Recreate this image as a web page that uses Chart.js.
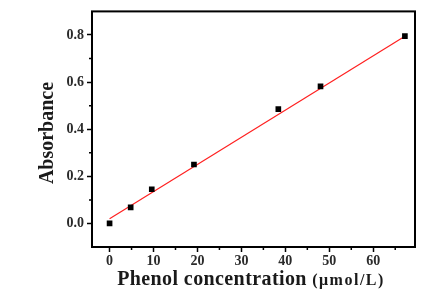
<!DOCTYPE html>
<html><head><meta charset="utf-8">
<script src="https://cdn.jsdelivr.net/npm/chart.js@4.4.1/dist/chart.umd.min.js"></script>
<style>html,body{margin:0;padding:0;background:#fff}#wrap{width:447px;height:300px}</style>
</head><body><div id="wrap"><canvas id="c" width="447" height="300"></canvas></div>
<script>
const concentration = [0, 4.8, 9.6, 19.2, 38.4, 48, 67.2];
const absorbance = [0.0, 0.068, 0.145, 0.25, 0.485, 0.582, 0.795];
const fitX = [0, 67.2];
const fitY = [0.02, 0.795];
const xTicks = [0, 10, 20, 30, 40, 50, 60];
const yTicks = [0.0, 0.2, 0.4, 0.6, 0.8];
const xMinor = [5, 15, 25, 35, 45, 55, 65];
const yMinor = [0.1, 0.3, 0.5, 0.7];
const xTitleMain = 'Phenol concentration ';
const xTitleUnit = '(μmol/L)';
const yTitle = 'Absorbance';

const serif = '"Liberation Serif", "Times New Roman", serif';

const framePlugin = {
  id: 'frame',
  afterDraw(chart) {
    const {ctx, chartArea: a, scales} = chart;
    ctx.save();
    ctx.strokeStyle = '#000';
    ctx.lineWidth = 2;
    ctx.strokeRect(a.left, a.top, a.right - a.left, a.bottom - a.top);
    ctx.lineWidth = 1.5;
    ctx.beginPath();
    xMinor.forEach(v => { const x = scales.x.getPixelForValue(v); ctx.moveTo(x, a.bottom); ctx.lineTo(x, a.bottom + 3); });
    yMinor.forEach(v => { const y = scales.y.getPixelForValue(v); ctx.moveTo(a.left, y); ctx.lineTo(a.left - 3, y); });
    ctx.stroke();
    ctx.fillStyle = '#1a1a1a';
    ctx.textBaseline = 'alphabetic';
    ctx.font = 'bold 20px ' + serif;
    ctx.letterSpacing = '0.4px';
    const w1 = ctx.measureText(xTitleMain).width;
    ctx.font = 'bold 16px ' + serif;
    ctx.letterSpacing = '1.5px';
    const w2 = ctx.measureText(xTitleUnit).width;
    const cx = 251;
    let x0 = cx - (w1 + w2) / 2;
    ctx.font = 'bold 20px ' + serif;
    ctx.letterSpacing = '0.4px';
    ctx.textAlign = 'left';
    ctx.fillText(xTitleMain, x0, 285);
    ctx.font = 'bold 16px ' + serif;
    ctx.letterSpacing = '1.5px';
    ctx.fillText(xTitleUnit, x0 + w1, 285);
    ctx.letterSpacing = '0px';
    ctx.translate(53, 133);
    ctx.rotate(-Math.PI / 2);
    ctx.font = 'bold 20px ' + serif;
    ctx.textAlign = 'center';
    ctx.fillText(yTitle, 0, 0);
    ctx.restore();
  }
};

new Chart(document.getElementById('c'), {
  type: 'scatter',
  data: {
    datasets: [
      {
        type: 'line',
        data: fitX.map((x, i) => ({x, y: fitY[i]})),
        borderColor: '#ff2020',
        borderWidth: 1.2,
        pointRadius: 0,
        fill: false,
        order: 2
      },
      {
        data: concentration.map((x, i) => ({x, y: absorbance[i]})),
        pointStyle: 'rect',
        pointRadius: 4,
        backgroundColor: '#000',
        borderColor: '#000',
        borderWidth: 0,
        order: 1
      }
    ]
  },
  options: {
    responsive: false,
    animation: false,
    events: [],
    layout: {padding: {left: 0, right: 32, top: 10, bottom: 0}},
    plugins: {legend: {display: false}, tooltip: {enabled: false}},
    scales: {
      x: {
        type: 'linear',
        min: -4, max: 69.5,
        afterBuildTicks: s => { s.ticks = xTicks.map(v => ({value: v})); },
        afterFit: s => { s.height = 53; },
        border: {display: false},
        grid: {drawOnChartArea: false, drawTicks: true, tickLength: 5, tickWidth: 1.5, tickColor: '#000'},
        ticks: {color: '#2a2a2a', padding: 1, font: {family: serif, size: 14, weight: 'bold'}, callback: v => String(v)}
      },
      y: {
        type: 'linear',
        min: -0.1, max: 0.9,
        afterBuildTicks: s => { s.ticks = yTicks.map(v => ({value: v})); },
        afterFit: s => { s.width = 92; },
        border: {display: false},
        grid: {drawOnChartArea: false, drawTicks: true, tickLength: 5, tickWidth: 1.5, tickColor: '#000'},
        ticks: {color: '#2a2a2a', padding: 3, font: {family: serif, size: 14, weight: 'bold'}, callback: v => Number(v).toFixed(1)}
      }
    }
  },
  plugins: [framePlugin]
});
</script></body></html>
